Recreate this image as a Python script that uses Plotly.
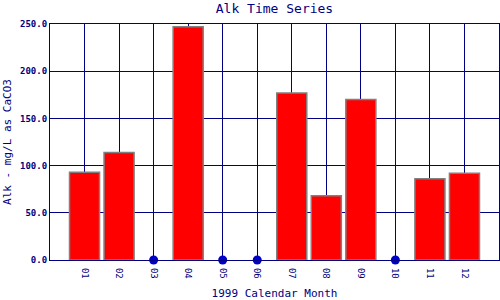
import plotly.graph_objects as go

months = ["01", "02", "03", "04", "05", "06", "07", "08", "09", "10", "11", "12"]
alk = [93, 114, 0, 247, 0, 0, 177, 68, 170, 0, 86, 92]
y_ticks = [0, 50, 100, 150, 200, 250]

xpos = list(range(1, len(months) + 1))
bar_x = [x for x, v in zip(xpos, alk) if v > 0]
bar_y = [v for v in alk if v > 0]
dot_x = [x for x, v in zip(xpos, alk) if v == 0]
dot_y = [v for v in alk if v == 0]

navy = "#000080"
font = "DejaVu Sans Mono"

fig = go.Figure()
fig.add_trace(go.Bar(x=bar_x, y=bar_y, width=0.87,
                     marker=dict(color="#ff0000", line=dict(color="#808080", width=1.5))))
fig.add_trace(go.Scatter(x=dot_x, y=dot_y, mode="markers", cliponaxis=False,
                         marker=dict(color="#0000cc", size=9)))

fig.update_layout(
    width=500, height=300,
    margin=dict(l=50, r=1, t=24, b=40),
    paper_bgcolor="white", plot_bgcolor="white",
    showlegend=False,
    title=dict(text="Alk Time Series", x=0.549, xanchor="center", y=0.988, yanchor="top",
               font=dict(family=font, size=13, color=navy)),
    xaxis=dict(range=[0, 13], tickvals=xpos, ticktext=months, tickangle=90,
               showgrid=True, gridcolor=navy, gridwidth=1.2,
               showline=True, linecolor=navy, linewidth=1.2, mirror=True,
               ticks="", zeroline=False, ticklabelstandoff=5, automargin=False,
               tickfont=dict(family=font, size=9, color=navy),
               title=dict(text="1999 Calendar Month", standoff=16,
                          font=dict(family=font, size=11, color=navy))),
    yaxis=dict(range=[0, 250], tickvals=y_ticks, tickformat=".1f",
               showgrid=True, gridcolor=navy, gridwidth=1.2,
               showline=True, linecolor=navy, linewidth=1.2, mirror=True,
               ticks="", zeroline=False, automargin=False,
               tickfont=dict(family=font, size=9, color=navy, weight="bold"),
               title=dict(text="Alk - mg/L as CaCO3", standoff=6,
                          font=dict(family=font, size=11, color=navy))),
)
fig.write_html("out.html")
